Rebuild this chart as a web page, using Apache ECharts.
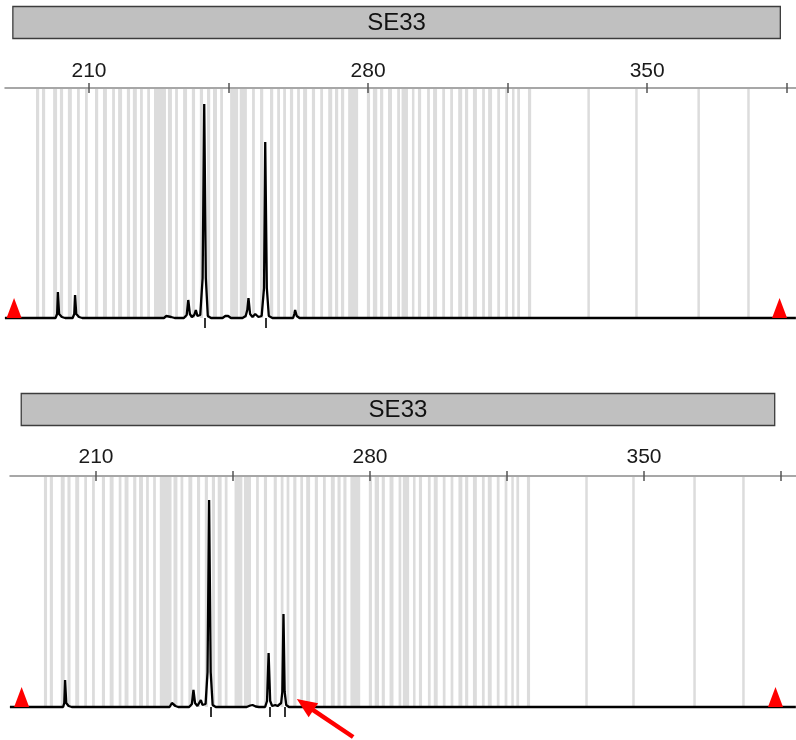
<!DOCTYPE html>
<html><head><meta charset="utf-8">
<script src="https://cdn.jsdelivr.net/npm/echarts@6/dist/echarts.min.js"></script>
<style>html,body{margin:0;padding:0;background:#fff}#c{width:796px;height:740px}</style>
</head><body><div id="c"></div>
<script>
// ---------------- data ----------------
const locusName = 'SE33';
const locusRange = [190.9, 383.4];           // bp span of the locus marker bar
const axisTicks = [210, 245, 280, 315, 350, 385];
const axisLabels = [210, 280, 350];

// allele bins (bp) [low, high]
const bins = [
  [196.7,197.5],[198.2,199.0],[201.0,202.0],[202.7,203.5],[204.7,205.7],[207.0,207.7],
  [209.0,209.7],[211.5,212.3],[213.5,214.5],[215.8,216.5],[217.3,218.3],[219.5,220.3],
  [221.0,222.0],[222.8,223.5],[224.6,225.3],[226.3,229.3],[229.8,230.8],[231.6,232.3],
  [233.6,234.6],[235.8,236.6],[237.8,238.6],[239.6,240.4],[241.1,242.1],[242.9,243.6],
  [245.4,247.4],[247.8,249.6],[250.9,251.6],[252.9,253.7],[255.4,256.2],[257.2,257.9],
  [258.7,259.4],[260.4,261.2],[262.2,262.9],[263.7,264.7],[265.9,266.7],[268.0,268.7],
  [270.0,271.0],[271.7,272.5],[273.2,274.0],[275.0,277.5],[279.7,280.5],[281.2,282.3],
  [283.0,283.8],[285.0,286.0],[287.3,288.0],[288.4,290.0],[291.0,291.4],[292.5,293.3],
  [294.8,295.5],[296.3,297.3],[298.6,299.3],[300.6,301.3],[302.6,303.6],[304.3,305.1],
  [306.3,307.3],[308.6,309.3],[310.1,311.1],[312.4,313.1],[314.4,315.1],[316.1,316.6],
  [317.4,318.1],[320.1,320.9],
  [335.0,335.6],[347.0,347.6],[362.6,363.2],[375.1,375.7]
];

// electropherogram traces [bp, RFU]
const traceTop = [
  [188.9,0],[201.6,0],[202.0,40],[202.2,260],[202.5,40],[203.2,10],[204.0,0],
  [205.9,0],[206.3,40],[206.5,230],[206.8,40],[207.5,10],[208.3,0],
  [228.8,0],[229.4,20],[229.9,25],[230.6,10],[231.5,0],
  [233.8,0],[234.5,30],[234.9,180],[235.3,40],[235.8,10],[236.4,30],[236.8,80],[237.2,20],
  [237.9,30],[238.5,400],[238.9,2140],[239.3,400],[239.8,20],[240.6,0],
  [243.5,0],[244.2,20],[244.9,20],[245.6,0],
  [248.5,0],[249.3,20],[249.7,80],[250.0,200],[250.4,40],[251.0,10],[251.7,40],[252.1,60],
  [252.5,10],[253.3,20],[253.9,300],[254.2,1760],[254.6,300],[255.1,20],[256.0,0],
  [261.2,0],[261.5,40],[261.7,80],[262.1,20],[262.8,0],
  [387.3,0]
];
const traceBottom = [
  [188.0,0],[201.6,0],[201.9,40],[202.1,270],[202.4,40],[203.0,10],[203.8,0],
  [228.8,0],[229.4,40],[229.8,35],[230.3,10],[231.0,0],
  [233.8,0],[234.5,30],[234.9,170],[235.3,40],[235.9,10],[236.4,30],[236.8,70],[237.2,20],
  [238.0,30],[238.5,350],[238.9,2070],[239.3,350],[239.8,20],[240.6,0],
  [248.5,0],[249.4,15],[250.0,20],[250.8,5],[251.6,0],
  [253.2,0],[253.7,60],[254.1,540],[254.5,60],[255.0,10],[255.8,20],[256.4,10],
  [257.3,40],[257.6,150],[257.9,930],[258.2,150],[258.6,20],[259.3,0],
  [388.8,0]
];

const allelesTop = [239.1, 254.4];
const allelesBottom = [239.2, 254.5, 258.1];
const edgeMarkersTop = [191.2, 383.2];
const edgeMarkersBottom = [191.0, 383.6];
const arrowBottom = [275.7, -300, 261.3, 80];   // tail bp, tail RFU, tip bp, tip RFU

// ---------------- layout ----------------
const panels = [
  {hTop:6, hH:33, top:88, h:230, left:5, min:188.93, max:387.33, ymax:2300, lm:6,
   trace:traceTop, alleles:allelesTop, markers:edgeMarkersTop, arrow:null},
  {hTop:393, hH:33, top:476, h:231, left:10, min:188.03, max:388.84, ymax:2310, lm:8,
   trace:traceBottom, alleles:allelesBottom, markers:edgeMarkersBottom, arrow:arrowBottom}
];

const FONT = '"Liberation Sans", Arial, sans-serif';
const grid = [], xAxis = [], yAxis = [], series = [];

panels.forEach((p, i) => {
  const gH = grid.length, gM = gH + 1;
  grid.push({left:p.left, right:0, top:p.hTop, height:p.hH});
  grid.push({left:p.left, right:0, top:p.top, height:p.h});
  const xb = xAxis.length, yb = yAxis.length;
  // header axis
  xAxis.push({type:'value', gridIndex:gH, min:p.min, max:p.max, show:false});
  // main top axis (outward ticks + labels)
  xAxis.push({type:'value', gridIndex:gM, min:p.min, max:p.max, position:'top', z:5,
    axisLine:{show:true, onZero:false, lineStyle:{color:'#8a8a8a', width:1.5}},
    axisTick:{show:true, customValues:axisTicks, length:5, lineStyle:{color:'#555', width:1.5}},
    axisLabel:{show:true, customValues:axisLabels, fontSize:21, color:'#1a1a1a', fontFamily:FONT, margin:p.lm},
    splitLine:{show:false}});
  // inward ticks
  xAxis.push({type:'value', gridIndex:gM, min:p.min, max:p.max, position:'top', z:5,
    axisLine:{show:false, onZero:false},
    axisTick:{show:true, inside:true, customValues:axisTicks, length:5, lineStyle:{color:'#555', width:1.5}},
    axisLabel:{show:false}, splitLine:{show:false}});
  // allele call ticks below baseline
  xAxis.push({type:'value', gridIndex:gM, min:p.min, max:p.max, position:'bottom',
    axisLine:{show:false, onZero:false},
    axisTick:{show:true, customValues:p.alleles, length:10, lineStyle:{color:'#333', width:2}},
    axisLabel:{show:false}, splitLine:{show:false}});
  yAxis.push({type:'value', gridIndex:gH, min:0, max:1, show:false});
  yAxis.push({type:'value', gridIndex:gM, min:0, max:p.ymax, show:false});

  // locus bar
  series.push({type:'custom', xAxisIndex:xb, yAxisIndex:yb, data:[locusRange], clip:false,
    renderItem(params, api){
      const a = api.coord([api.value(0), 1]), b = api.coord([api.value(1), 0]);
      return {type:'group', children:[
        {type:'rect', shape:{x:a[0], y:a[1]+0.5, width:b[0]-a[0], height:b[1]-a[1]-1},
         style:{fill:'#c0c0c0', stroke:'#3c3c3c', lineWidth:1.3}},
        {type:'text', style:{text:locusName, x:(a[0]+b[0])/2, y:(a[1]+b[1])/2+1,
         align:'center', verticalAlign:'middle', fontSize:24, fontFamily:FONT, fill:'#111'}}
      ]};
    }});
  // bins
  series.push({type:'custom', xAxisIndex:xb+1, yAxisIndex:yb+1, data:bins, z:1, clip:false,
    encode:{x:[0,1]},
    renderItem(params, api){
      const a = api.coord([api.value(0), p.ymax]), b = api.coord([api.value(1), 0]);
      const w = Math.max(b[0]-a[0], 2.5);
      return {type:'rect', shape:{x:a[0], y:a[1]+1, width:w, height:b[1]-a[1]-1},
        style:{fill:'#dcdcdc'}};
    }});
  // trace
  series.push({type:'line', xAxisIndex:xb+1, yAxisIndex:yb+1, data:p.trace, z:3,
    showSymbol:false, clip:false, lineStyle:{color:'#000', width:2.3}});
  // edge markers
  series.push({type:'scatter', xAxisIndex:xb+1, yAxisIndex:yb+1, z:4, clip:false,
    data:p.markers.map(v => [v, 0]), symbol:'triangle', symbolSize:[15,20],
    symbolOffset:[0,-10], itemStyle:{color:'#ff0000', opacity:1}});
  // arrow
  if (p.arrow) {
    series.push({type:'custom', xAxisIndex:xb+1, yAxisIndex:yb+1, z:5, clip:false,
      data:[p.arrow], encode:{x:[0,2], y:[1,3]},
      renderItem(params, api){
        const t = api.coord([api.value(0), api.value(1)]);
        const h = api.coord([api.value(2), api.value(3)]);
        const dx = h[0]-t[0], dy = h[1]-t[1], L = Math.hypot(dx, dy);
        const ux = dx/L, uy = dy/L, hl = 20, hw = 8.5;
        const bx = h[0]-ux*hl, by = h[1]-uy*hl;
        return {type:'group', children:[
          {type:'line', shape:{x1:t[0], y1:t[1], x2:bx+ux*2, y2:by+uy*2},
           style:{stroke:'#ff0000', lineWidth:4.5}},
          {type:'polygon', shape:{points:[[h[0],h[1]],[bx-uy*hw, by+ux*hw],[bx+uy*hw, by-ux*hw]]},
           style:{fill:'#ff0000'}}
        ]};
      }});
  }
});

const chart = echarts.init(document.getElementById('c'), null, {renderer:'canvas'});
chart.setOption({animation:false, backgroundColor:'#fff', grid, xAxis, yAxis, series});
</script></body></html>
